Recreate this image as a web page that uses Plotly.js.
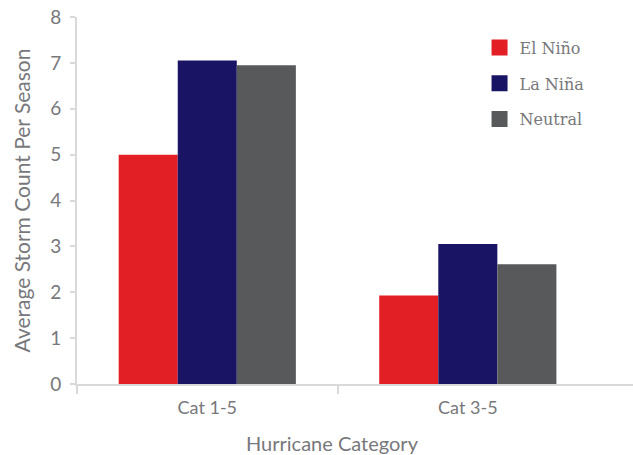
<!DOCTYPE html>
<html>
<head>
<meta charset="utf-8">
<script src="https://cdn.plot.ly/plotly-3.0.1.min.js"></script>
<style>html,body{margin:0;padding:0;background:#fff;}#chart{width:633px;height:455px;}</style>
</head>
<body>
<div id="chart"></div>
<script>
var categories = ["Cat 1-5", "Cat 3-5"];
var seriesNames = ["El Niño", "La Niña", "Neutral"];
var elNino = [5.0, 1.93];
var laNina = [7.05, 3.05];
var neutral = [6.95, 2.61];
var yTicks = [0, 1, 2, 3, 4, 5, 6, 7, 8];
var colors = ["#e31f26", "#191464", "#58595b"];
var textColor = "#77787b";
var axisColor = "#d9d9d9";

var values = [elNino, laNina, neutral];
var traces = [];
values.forEach(function (v, i) {
  traces.push({
    type: "bar", x: categories, y: v, name: seriesNames[i],
    marker: {color: colors[i], line: {width: 0}},
    showlegend: false, hoverinfo: "x+y+name"
  });
});
// legend proxies (square swatches)
values.forEach(function (v, i) {
  traces.push({
    type: "scatter", mode: "markers", x: [null], y: [null], name: seriesNames[i],
    marker: {symbol: "square", size: 16, color: colors[i], line: {width: 0}},
    legendgroup: "g" + i, showlegend: true
  });
});
// boundary tick marks on an overlaid linear axis
traces.push({type: "scatter", mode: "markers", x: [null], y: [null], xaxis: "x2", showlegend: false, hoverinfo: "skip"});

var layout = {
  width: 633, height: 455,
  margin: {l: 77, r: 0, t: 17, b: 71},
  paper_bgcolor: "#fff", plot_bgcolor: "#fff",
  font: {family: "Lato, sans-serif", color: textColor},
  barmode: "group", bargap: 0.32, bargroupgap: 0,
  xaxis: {
    type: "category", range: [-0.5, 1.634],
    showline: true, linecolor: axisColor, linewidth: 2,
    ticks: "", showgrid: false, zeroline: false,
    tickfont: {size: 18, color: textColor, family: "Lato, sans-serif"},
    ticklabelstandoff: 6,
    fixedrange: true
  },
  xaxis2: {
    overlaying: "x", range: [-0.5, 1.634], anchor: "y",
    tickvals: [-0.5, 0.5], showticklabels: false,
    ticks: "outside", ticklen: 9, tickwidth: 2, tickcolor: axisColor,
    showline: false, showgrid: false, zeroline: false
  },
  yaxis: {
    range: [0, 8], tickvals: yTicks,
    showline: true, linecolor: axisColor, linewidth: 2,
    ticks: "outside", ticklen: 5, tickwidth: 2, tickcolor: axisColor,
    showgrid: false, zeroline: false,
    ticklabelstandoff: 5,
    tickfont: {size: 19, color: textColor, family: "Lato, sans-serif"},
    title: {text: "Average Storm Count Per Season", font: {size: 21, color: textColor, family: "Lato, sans-serif"}, standoff: 14}
  },
  legend: {
    x: 0.724, xanchor: "left", y: 0.963, yanchor: "top",
    font: {size: 16, color: textColor, family: "DejaVu Serif, serif"},
    traceorder: "grouped", tracegroupgap: 12,
    bgcolor: "rgba(0,0,0,0)", borderwidth: 0
  },
  annotations: [{
    text: "Hurricane Category", xref: "paper", yref: "paper",
    x: (332 - 77) / 556, y: -0.16, xanchor: "center", yanchor: "middle",
    showarrow: false, font: {size: 20, color: textColor, family: "Lato, sans-serif"}
  }]
};

Plotly.newPlot("chart", traces, layout, {displayModeBar: false, staticPlot: true});
</script>
</body>
</html>
